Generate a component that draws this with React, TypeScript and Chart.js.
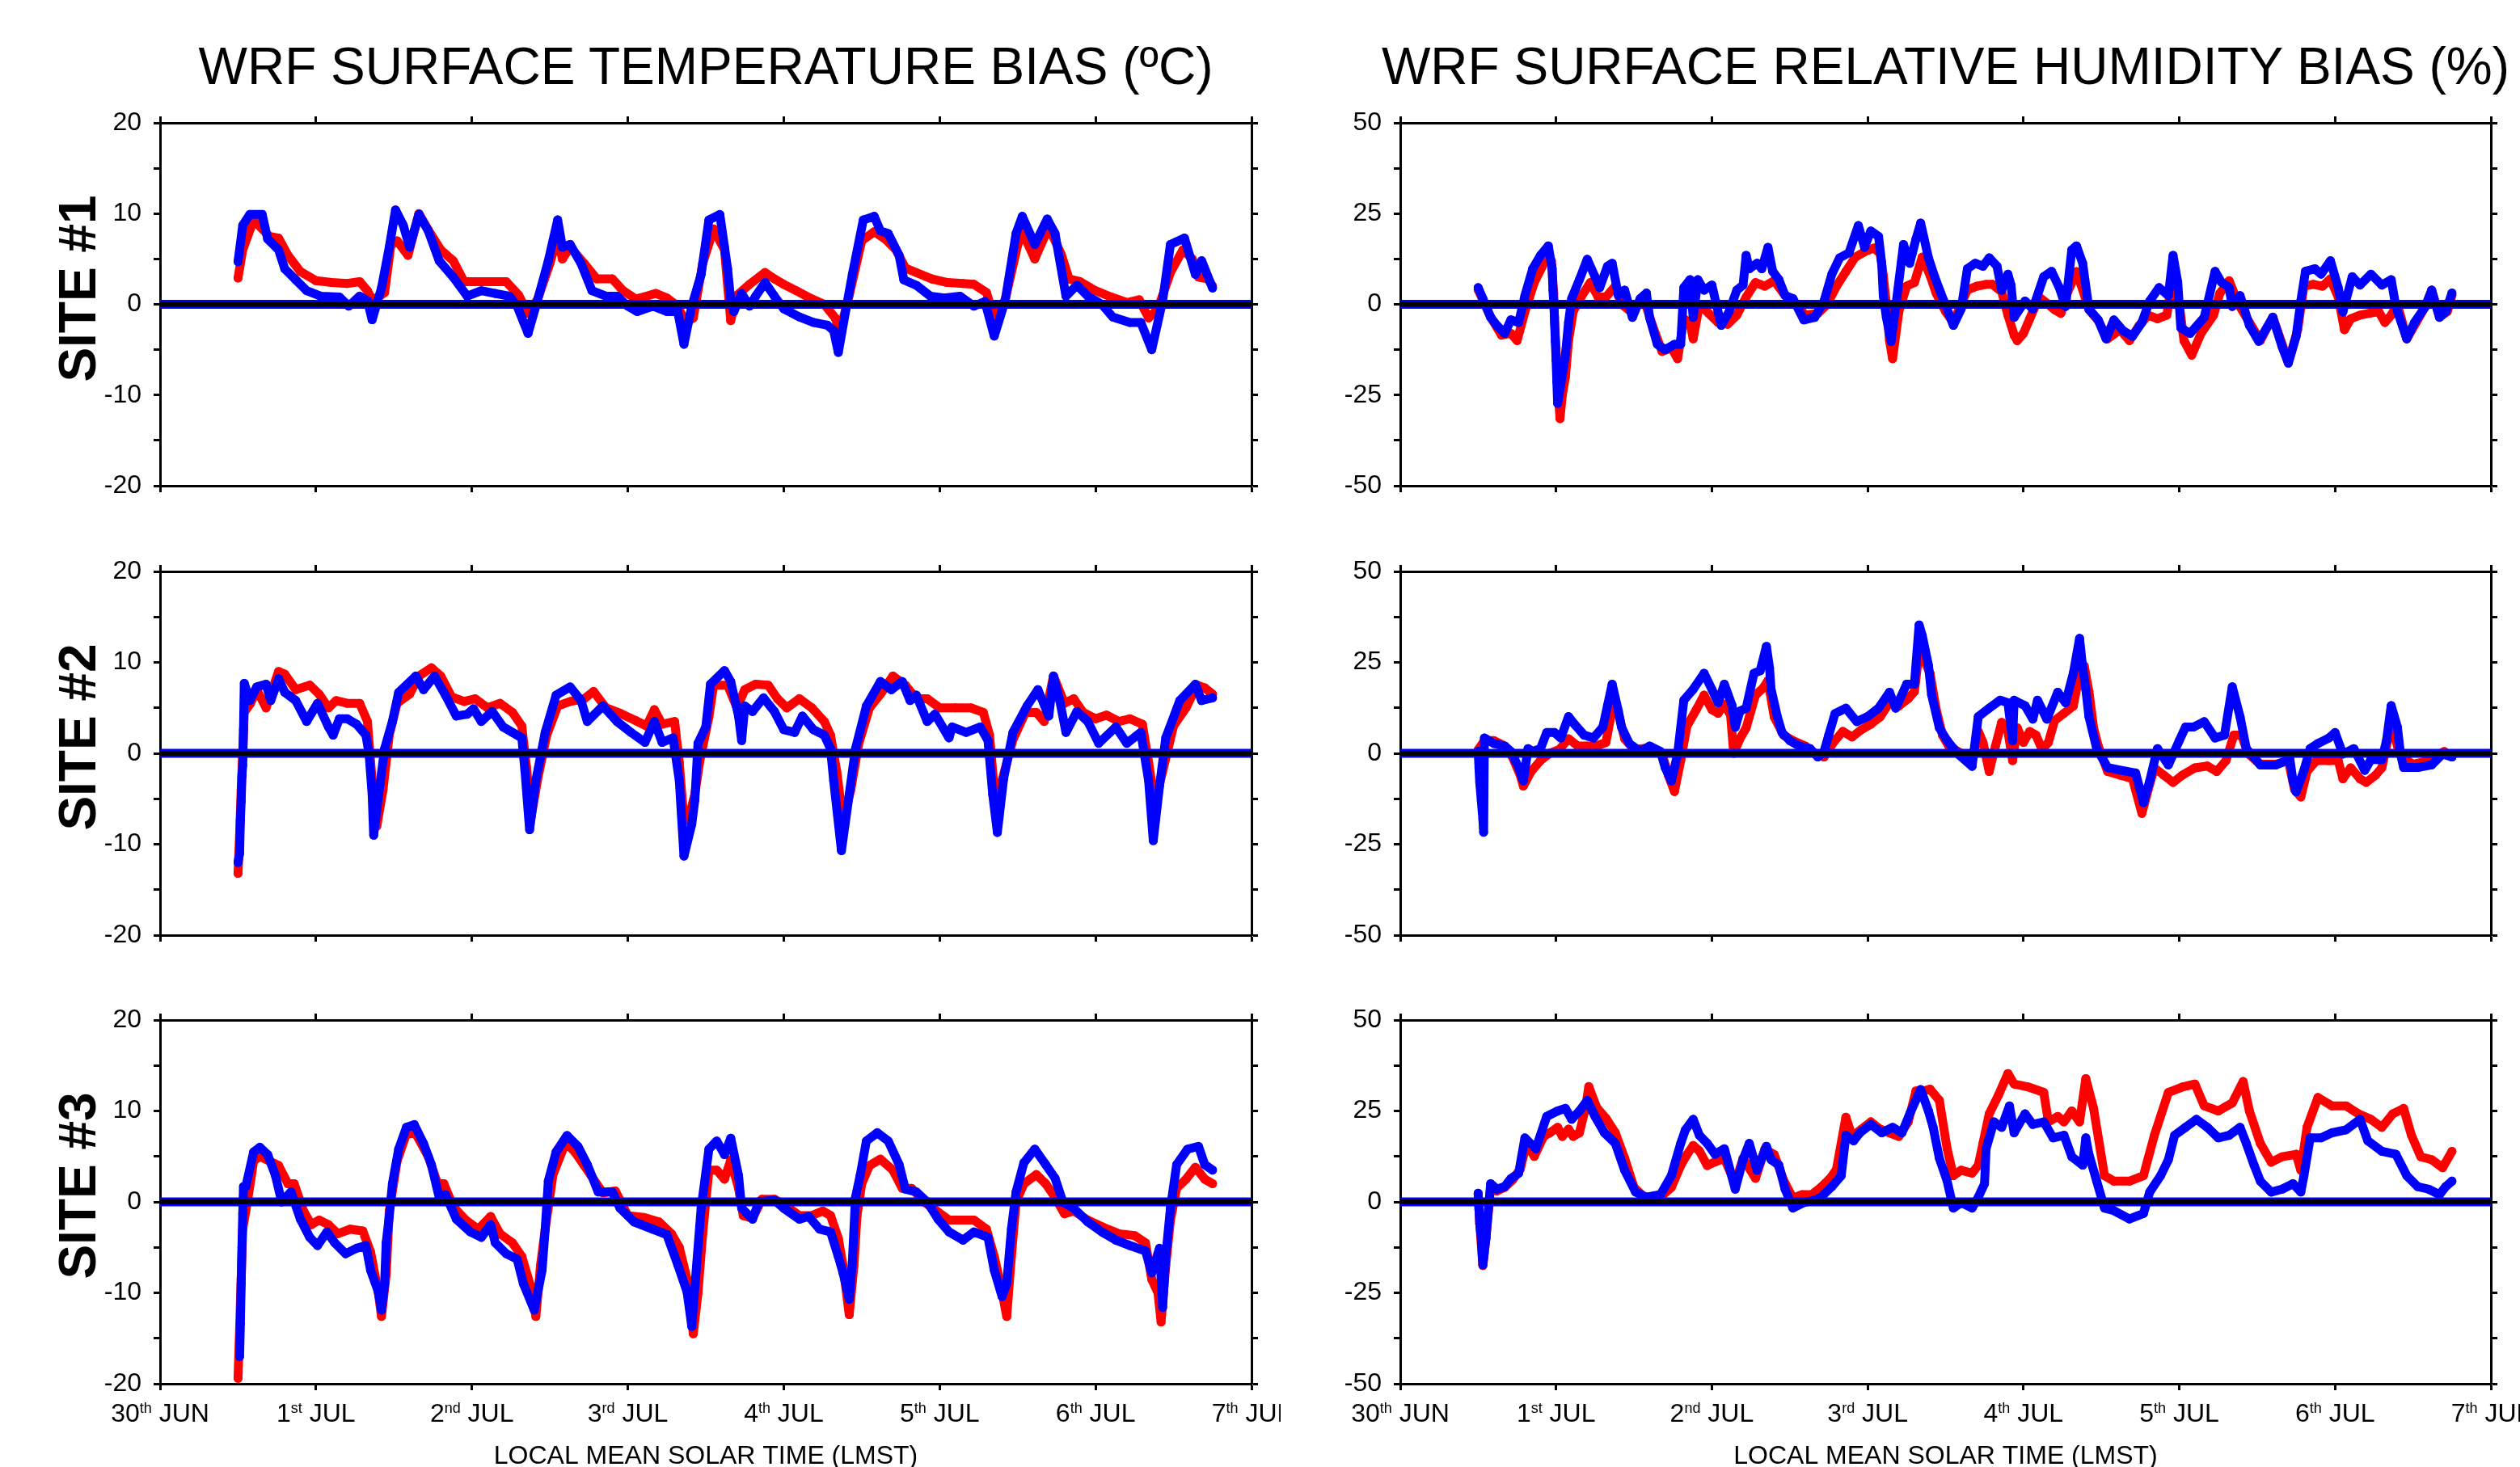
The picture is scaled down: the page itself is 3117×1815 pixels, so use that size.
import React, { useEffect, useRef } from 'react';
import { Chart, registerables } from 'chart.js';

Chart.register(...registerables);

const FONT = '"Liberation Sans", Arial, Helvetica, sans-serif';

// ---- Tick labels ----
const xTickNums = ['30', '1', '2', '3', '4', '5', '6', '7'];
const xTickSups = ['th', 'st', 'nd', 'rd', 'th', 'th', 'th', 'th'];
const xTickMonths = ['JUN', 'JUL', 'JUL', 'JUL', 'JUL', 'JUL', 'JUL', 'JUL'];
const titles = ['WRF SURFACE TEMPERATURE BIAS (\u00BAC)', 'WRF SURFACE RELATIVE HUMIDITY BIAS (%)'];
const siteLabels = ['SITE #1', 'SITE #2', 'SITE #3'];
const xAxisTitle = 'LOCAL MEAN SOLAR TIME (LMST)';

// ---- Data: [day since 30 Jun 00 LMST, bias] ----
const site1TempBlue = [[0.50,4.7],[0.53,8.7],[0.575,9.9],[0.655,9.9],[0.69,7.2],[0.76,6.0],[0.80,3.9],[0.87,2.7],[0.94,1.5],[1.03,0.9],[1.15,0.8],[1.21,-0.2],[1.28,0.9],[1.33,0.4],[1.36,-1.7],[1.42,1.8],[1.47,6.3],[1.51,10.4],[1.56,8.7],[1.60,6.3],[1.66,9.9],[1.72,8.1],[1.79,4.8],[1.88,3.0],[1.97,0.9],[2.06,1.5],[2.15,1.2],[2.24,0.9],[2.29,-0.2],[2.36,-3.2],[2.42,0.4],[2.49,4.8],[2.55,9.3],[2.58,6.3],[2.63,6.6],[2.70,4.5],[2.77,1.5],[2.86,0.9],[2.93,0.9],[3.00,-0.2],[3.06,-0.8],[3.16,-0.2],[3.25,-0.8],[3.32,-0.8],[3.36,-4.4],[3.41,-0.2],[3.47,3.3],[3.52,9.3],[3.59,9.9],[3.62,6.3],[3.64,3.9],[3.66,0.4],[3.68,-0.8],[3.73,1.2],[3.78,-0.2],[3.82,0.9],[3.88,2.4],[3.94,0.9],[4.00,-0.5],[4.10,-1.4],[4.19,-2.0],[4.28,-2.3],[4.32,-2.9],[4.35,-5.3],[4.39,-1.4],[4.44,3.3],[4.51,9.3],[4.58,9.7],[4.62,8.1],[4.67,7.8],[4.74,5.4],[4.77,2.7],[4.85,2.1],[4.94,0.9],[5.03,0.7],[5.13,0.9],[5.22,-0.2],[5.29,0.3],[5.35,-3.5],[5.42,0.4],[5.49,7.8],[5.53,9.7],[5.61,6.6],[5.69,9.4],[5.74,7.8],[5.81,0.9],[5.88,2.1],[5.95,0.9],[6.04,0],[6.11,-1.4],[6.22,-2.0],[6.29,-2.0],[6.36,-5.0],[6.43,0.4],[6.48,6.6],[6.57,7.3],[6.64,3.3],[6.68,4.8],[6.75,1.8]];
const site1TempRed = [[0.50,2.9],[0.53,6.0],[0.60,9.3],[0.70,7.5],[0.76,7.3],[0.82,5.4],[0.90,3.6],[1.00,2.6],[1.10,2.4],[1.20,2.3],[1.28,2.5],[1.33,1.5],[1.36,0.5],[1.40,0.8],[1.44,1.3],[1.48,6.5],[1.52,7.0],[1.59,5.4],[1.66,10.0],[1.72,8.2],[1.80,6.0],[1.88,4.8],[1.95,2.5],[2.05,2.5],[2.15,2.5],[2.22,2.5],[2.30,1.0],[2.36,-1.0],[2.42,0.5],[2.50,4.5],[2.55,7.5],[2.58,5.0],[2.63,6.3],[2.72,4.5],[2.80,2.8],[2.90,2.8],[2.97,1.5],[3.05,0.6],[3.10,0.8],[3.18,1.2],[3.25,0.7],[3.32,-0.2],[3.37,-2.0],[3.42,-1.5],[3.48,4.5],[3.55,8.3],[3.62,6.0],[3.66,-1.8],[3.70,1.0],[3.78,2.2],[3.88,3.5],[3.94,2.8],[4.00,2.2],[4.08,1.5],[4.18,0.6],[4.26,0],[4.33,-1.5],[4.36,-3.0],[4.42,1.0],[4.50,7.0],[4.58,8.0],[4.65,7.2],[4.72,6.0],[4.78,4.0],[4.85,3.5],[4.95,2.8],[5.05,2.4],[5.15,2.3],[5.22,2.2],[5.30,1.3],[5.35,-1.5],[5.42,0.5],[5.50,6.5],[5.53,8.0],[5.61,5.0],[5.70,8.5],[5.78,5.5],[5.83,2.8],[5.90,2.5],[6.00,1.5],[6.10,0.8],[6.20,0.2],[6.28,0.5],[6.34,-1.5],[6.40,-0.5],[6.48,3.5],[6.56,6.0],[6.62,5.0],[6.66,3.0],[6.72,2.8],[6.75,2.0]];

const site2TempBlue = [[0.50,-12.0],[0.51,-11.0],[0.515,-7.4],[0.52,-5.3],[0.525,-2.5],[0.53,-1.3],[0.535,2.6],[0.54,7.7],[0.575,5.8],[0.62,7.3],[0.68,7.6],[0.71,5.8],[0.76,8.2],[0.80,6.7],[0.87,5.8],[0.94,3.5],[1.01,5.5],[1.08,2.9],[1.11,2.0],[1.15,3.8],[1.20,3.8],[1.26,3.2],[1.32,2.0],[1.34,0],[1.36,-4.5],[1.37,-9.0],[1.40,-4.8],[1.44,0.5],[1.49,3.5],[1.53,6.7],[1.64,8.5],[1.69,7.0],[1.76,8.5],[1.83,6.4],[1.90,4.1],[1.97,4.3],[2.01,4.9],[2.06,3.5],[2.13,4.6],[2.20,2.9],[2.26,2.3],[2.32,1.7],[2.34,-1.9],[2.37,-8.4],[2.41,-3.0],[2.47,2.3],[2.54,6.4],[2.63,7.3],[2.70,5.8],[2.74,3.5],[2.84,5.2],[2.93,3.5],[3.02,2.3],[3.11,1.2],[3.17,3.5],[3.22,1.2],[3.29,1.7],[3.33,-3.0],[3.36,-11.3],[3.41,-7.8],[3.43,-5.1],[3.45,1.1],[3.50,2.9],[3.53,7.6],[3.62,9.1],[3.66,7.9],[3.71,4.1],[3.73,1.4],[3.75,5.2],[3.80,4.6],[3.87,6.1],[3.94,4.6],[4.00,2.6],[4.07,2.3],[4.12,4.1],[4.19,2.6],[4.26,2.0],[4.30,0.5],[4.32,-3.0],[4.37,-10.7],[4.42,-4.5],[4.46,0.5],[4.53,5.2],[4.62,7.9],[4.69,7.0],[4.76,7.9],[4.81,5.8],[4.85,6.4],[4.92,3.5],[4.97,4.3],[5.06,1.7],[5.08,2.9],[5.17,2.3],[5.26,2.9],[5.31,1.4],[5.34,-4.5],[5.37,-8.7],[5.41,-2.8],[5.47,2.3],[5.56,5.2],[5.63,7.0],[5.70,4.1],[5.73,8.5],[5.77,5.8],[5.81,2.3],[5.88,4.6],[5.95,3.5],[6.02,1.1],[6.13,2.9],[6.20,1.1],[6.29,2.3],[6.34,-3.0],[6.37,-9.6],[6.41,-3.6],[6.45,1.7],[6.54,5.8],[6.64,7.6],[6.68,5.8],[6.75,6.1]];
const site2TempRed = [[0.50,-13.2],[0.51,-9.0],[0.52,-4.0],[0.53,0],[0.54,4.5],[0.58,5.5],[0.62,7.0],[0.68,5.0],[0.76,9.0],[0.80,8.7],[0.87,7.0],[0.96,7.5],[1.02,6.5],[1.08,5.0],[1.13,5.8],[1.20,5.5],[1.28,5.5],[1.33,3.5],[1.36,-3.0],[1.39,-8.0],[1.43,-4.0],[1.47,2.0],[1.52,5.5],[1.60,6.5],[1.66,8.5],[1.74,9.4],[1.80,8.5],[1.87,6.2],[1.95,5.7],[2.02,6.0],[2.10,5.0],[2.18,5.5],[2.26,4.5],[2.32,3.0],[2.35,-1.5],[2.38,-7.0],[2.42,-3.0],[2.48,2.0],[2.55,5.2],[2.63,5.7],[2.72,6.0],[2.78,6.8],[2.86,5.0],[2.95,4.4],[3.05,3.6],[3.12,3.0],[3.17,4.8],[3.22,3.2],[3.30,3.5],[3.33,-1.0],[3.36,-7.5],[3.40,-6.5],[3.43,-4.5],[3.46,-1.0],[3.52,4.0],[3.55,7.5],[3.64,7.5],[3.70,5.0],[3.75,7.0],[3.82,7.6],[3.90,7.5],[3.96,6.0],[4.02,5.0],[4.10,6.0],[4.18,5.0],[4.26,3.5],[4.30,2.0],[4.34,-2.0],[4.38,-7.5],[4.43,-4.0],[4.48,1.0],[4.55,5.0],[4.62,6.5],[4.70,8.5],[4.78,7.5],[4.85,6.0],[4.92,6.0],[5.00,5.0],[5.10,5.0],[5.20,5.0],[5.28,4.5],[5.32,2.0],[5.36,-6.0],[5.40,-3.0],[5.47,1.5],[5.55,4.5],[5.62,4.5],[5.67,3.5],[5.73,8.5],[5.80,5.5],[5.86,6.0],[5.92,4.5],[6.00,3.8],[6.07,4.2],[6.15,3.5],[6.22,3.8],[6.30,3.2],[6.34,-1.0],[6.38,-5.5],[6.43,-2.0],[6.50,3.0],[6.58,5.0],[6.65,7.5],[6.70,7.2],[6.75,6.5]];

const site3TempBlue = [[0.51,-17.0],[0.515,-13.4],[0.52,-9.0],[0.525,-5.0],[0.53,-1.3],[0.535,1.7],[0.55,1.7],[0.60,5.5],[0.64,6.0],[0.69,5.2],[0.74,2.9],[0.78,0],[0.84,1.1],[0.90,-1.9],[0.96,-3.9],[1.01,-4.8],[1.07,-3.3],[1.12,-4.5],[1.19,-5.7],[1.26,-5.1],[1.32,-4.8],[1.35,-7.5],[1.40,-9.9],[1.42,-11.9],[1.44,-9.0],[1.45,-4.5],[1.47,-1.6],[1.49,2.0],[1.53,5.8],[1.58,8.2],[1.63,8.5],[1.69,6.4],[1.74,4.1],[1.79,0.5],[1.83,0.8],[1.90,-1.9],[1.99,-3.3],[2.06,-3.9],[2.12,-2.5],[2.15,-4.5],[2.22,-5.7],[2.29,-6.3],[2.33,-9.0],[2.40,-11.9],[2.45,-7.5],[2.47,-3.0],[2.49,2.3],[2.54,5.5],[2.61,7.3],[2.68,6.1],[2.74,4.1],[2.81,1.1],[2.90,1.1],[2.95,-0.7],[3.04,-2.2],[3.16,-3.0],[3.25,-3.6],[3.32,-6.9],[3.38,-9.9],[3.41,-13.7],[3.44,-7.2],[3.47,-0.7],[3.52,5.8],[3.57,6.7],[3.62,5.2],[3.66,7.0],[3.71,2.9],[3.73,-0.7],[3.80,-1.9],[3.84,0],[3.94,0.2],[4.00,-0.7],[4.10,-1.9],[4.16,-1.6],[4.23,-3.0],[4.30,-3.3],[4.35,-6.0],[4.38,-7.8],[4.42,-10.7],[4.44,-6.6],[4.46,0.5],[4.49,2.9],[4.53,6.7],[4.60,7.6],[4.67,6.7],[4.74,4.1],[4.78,1.4],[4.85,1.1],[4.92,0],[4.99,-1.9],[5.06,-3.3],[5.15,-4.2],[5.22,-3.3],[5.31,-3.9],[5.35,-7.5],[5.40,-10.4],[5.43,-9.0],[5.46,-3.0],[5.49,1.1],[5.54,4.3],[5.61,5.8],[5.68,4.1],[5.74,2.6],[5.79,0],[5.86,-0.7],[5.95,-2.2],[6.04,-3.3],[6.13,-4.2],[6.22,-4.8],[6.32,-5.4],[6.36,-7.8],[6.41,-5.1],[6.43,-11.6],[6.45,-6.0],[6.48,-0.7],[6.52,4.1],[6.59,5.8],[6.66,6.1],[6.70,4.1],[6.75,3.5]];
const site3TempRed = [[0.50,-19.4],[0.51,-14.0],[0.52,-8.5],[0.53,-3.0],[0.56,0],[0.60,4.5],[0.64,5.0],[0.70,4.5],[0.76,4.0],[0.82,2.0],[0.86,2.0],[0.92,-1.0],[0.97,-2.5],[1.02,-2.0],[1.08,-2.5],[1.14,-3.5],[1.22,-3.0],[1.30,-3.2],[1.35,-5.5],[1.40,-10.0],[1.42,-12.6],[1.45,-8.0],[1.47,-1.0],[1.52,4.5],[1.58,7.5],[1.64,7.5],[1.72,5.0],[1.78,2.0],[1.82,2.0],[1.88,-0.5],[1.96,-2.0],[2.04,-3.0],[2.12,-1.6],[2.18,-3.5],[2.26,-4.5],[2.32,-6.0],[2.38,-9.5],[2.41,-12.6],[2.44,-7.0],[2.47,-3.0],[2.52,3.0],[2.60,6.5],[2.66,5.5],[2.76,3.0],[2.84,1.0],[2.92,1.2],[3.00,-1.5],[3.10,-1.7],[3.20,-2.2],[3.28,-3.5],[3.33,-5.0],[3.38,-8.5],[3.42,-14.5],[3.45,-10.0],[3.48,-3.5],[3.52,3.5],[3.57,3.5],[3.62,2.5],[3.66,4.6],[3.71,1.5],[3.74,-1.5],[3.80,-1.8],[3.86,0.3],[3.94,0.3],[4.02,-0.5],[4.10,-1.5],[4.18,-1.5],[4.25,-1.0],[4.30,-1.5],[4.35,-4.0],[4.38,-7.0],[4.42,-12.4],[4.45,-7.0],[4.47,-1.5],[4.50,2.0],[4.55,4.0],[4.62,4.7],[4.70,3.5],[4.76,1.5],[4.82,1.5],[4.90,0],[4.98,-1.0],[5.06,-2.0],[5.14,-2.0],[5.22,-2.0],[5.30,-3.0],[5.35,-6.0],[5.39,-9.0],[5.43,-12.6],[5.46,-6.0],[5.49,0],[5.54,2.0],[5.62,3.0],[5.68,2.0],[5.74,0.5],[5.80,-1.3],[5.86,-1.0],[5.95,-2.0],[6.05,-2.8],[6.15,-3.5],[6.25,-3.7],[6.32,-4.5],[6.36,-8.5],[6.40,-10.0],[6.42,-13.2],[6.45,-7.0],[6.48,-2.0],[6.52,1.5],[6.58,2.5],[6.64,3.8],[6.70,2.5],[6.75,2.0]];

const site1RhBlue = [[0.50,4.6],[0.53,1.6],[0.58,-3.6],[0.62,-5.8],[0.67,-8.0],[0.71,-4.3],[0.76,-5.0],[0.80,2.4],[0.85,9.8],[0.90,13.5],[0.95,16.1],[0.975,9.8],[0.98,3.9],[0.99,-3.6],[0.995,-10.2],[1.00,-15.4],[1.005,-21.4],[1.01,-27.3],[1.03,-22.1],[1.06,-13.9],[1.08,-5.0],[1.10,1.6],[1.15,6.8],[1.20,12.4],[1.25,7.6],[1.28,4.6],[1.33,10.5],[1.36,11.3],[1.40,2.4],[1.44,3.9],[1.49,-3.6],[1.54,1.6],[1.58,3.1],[1.60,-3.6],[1.65,-11.0],[1.70,-12.5],[1.76,-11.0],[1.80,-11.0],[1.82,4.6],[1.86,6.8],[1.88,-3.6],[1.91,6.8],[1.95,3.9],[2.00,5.3],[2.06,-5.8],[2.11,-2.1],[2.16,3.9],[2.20,5.3],[2.22,13.5],[2.24,9.8],[2.29,11.3],[2.32,9.8],[2.36,15.7],[2.39,9.1],[2.43,6.8],[2.47,2.4],[2.52,1.6],[2.59,-4.3],[2.66,-3.6],[2.72,0.9],[2.77,8.3],[2.82,12.8],[2.88,14.2],[2.94,21.7],[2.98,15.7],[3.02,20.2],[3.07,18.7],[3.09,11.3],[3.10,2.4],[3.12,-3.6],[3.15,-10.2],[3.18,-0.6],[3.23,16.5],[3.27,11.3],[3.31,18.0],[3.34,22.4],[3.39,12.8],[3.43,7.6],[3.47,3.0],[3.51,-1.3],[3.55,-5.8],[3.60,-1.3],[3.64,9.8],[3.69,11.3],[3.74,10.5],[3.78,12.8],[3.83,10.5],[3.86,3.9],[3.90,8.3],[3.92,5.3],[3.94,-3.6],[4.01,0.9],[4.06,-1.3],[4.13,7.6],[4.18,9.1],[4.23,4.6],[4.27,-0.6],[4.31,15.0],[4.34,16.1],[4.38,11.3],[4.42,-1.3],[4.48,-4.3],[4.53,-9.5],[4.58,-4.3],[4.64,-7.3],[4.70,-8.8],[4.76,-5.0],[4.81,0.9],[4.87,4.6],[4.93,2.4],[4.96,13.5],[4.99,6.1],[5.01,-6.5],[5.07,-8.0],[5.16,-3.6],[5.23,9.1],[5.27,6.1],[5.32,4.6],[5.34,-0.6],[5.39,2.4],[5.45,-5.8],[5.51,-10.2],[5.60,-3.6],[5.66,-11.7],[5.70,-16.2],[5.75,-8.8],[5.78,0.9],[5.81,9.1],[5.87,9.8],[5.91,8.3],[5.97,12.0],[6.02,4.6],[6.05,-2.1],[6.11,7.6],[6.16,5.3],[6.23,8.3],[6.30,5.3],[6.36,6.8],[6.39,-0.6],[6.46,-9.5],[6.51,-5.0],[6.58,-0.6],[6.62,3.9],[6.67,-3.6],[6.71,-2.1],[6.75,3.1]];
const site1RhRed = [[0.50,4.0],[0.58,-3.5],[0.65,-8.5],[0.71,-8.0],[0.75,-10.0],[0.80,-2.0],[0.86,6.0],[0.93,12.0],[0.97,12.0],[0.985,3.0],[0.99,-5.0],[1.00,-12.0],[1.01,-22.0],[1.025,-31.5],[1.04,-25.0],[1.06,-20.0],[1.08,-10.0],[1.11,-2.0],[1.16,2.0],[1.22,6.0],[1.27,2.0],[1.32,2.0],[1.38,5.0],[1.42,0],[1.48,-2.0],[1.56,2.0],[1.62,-6.0],[1.68,-13.0],[1.74,-12.0],[1.78,-15.0],[1.82,-4.0],[1.86,-5.0],[1.88,-9.5],[1.92,0],[1.98,-2.5],[2.04,-5.0],[2.10,-5.5],[2.16,-3.0],[2.22,2.0],[2.28,6.0],[2.34,5.0],[2.40,6.5],[2.46,3.0],[2.52,1.0],[2.60,-3.0],[2.68,-2.5],[2.74,0],[2.80,5.0],[2.86,9.0],[2.92,13.0],[2.98,14.5],[3.04,15.5],[3.08,14.0],[3.10,8.0],[3.12,0],[3.14,-10.0],[3.16,-15.0],[3.20,-2.0],[3.25,5.0],[3.30,6.0],[3.35,13.0],[3.40,8.0],[3.44,3.0],[3.50,-2.0],[3.55,-5.0],[3.64,4.0],[3.70,5.0],[3.76,5.5],[3.80,5.5],[3.86,3.5],[3.90,-3.0],[3.94,-8.5],[3.96,-10.0],[4.00,-8.0],[4.04,-4.0],[4.10,2.0],[4.16,0],[4.20,-1.5],[4.24,-2.5],[4.28,3.0],[4.31,6.0],[4.34,9.0],[4.38,4.0],[4.42,-1.5],[4.48,-4.5],[4.54,-9.5],[4.62,-7.0],[4.68,-10.0],[4.74,-6.0],[4.80,-3.0],[4.86,-4.0],[4.92,-3.0],[4.96,8.0],[5.00,0],[5.03,-10.0],[5.08,-14.0],[5.14,-8.0],[5.22,-3.0],[5.26,3.0],[5.32,6.5],[5.38,0],[5.45,-5.0],[5.52,-10.0],[5.60,-3.5],[5.66,-11.0],[5.70,-16.0],[5.76,-7.0],[5.80,5.0],[5.86,5.5],[5.92,5.0],[5.97,7.0],[6.02,2.0],[6.06,-7.0],[6.10,-4.0],[6.16,-3.0],[6.22,-2.5],[6.28,-2.0],[6.32,-5.0],[6.36,-3.0],[6.40,0],[6.46,-9.5],[6.52,-5.0],[6.58,-0.5],[6.62,3.9],[6.67,-3.5],[6.72,-2.0],[6.75,2.5]];

const site2RhBlue = [[0.50,0.5],[0.505,-3.9],[0.51,-8.0],[0.52,-13.0],[0.53,-18.0],[0.535,-21.7],[0.54,4.2],[0.60,2.7],[0.67,2.0],[0.71,0.5],[0.76,-3.9],[0.79,-7.6],[0.82,1.3],[0.85,0.5],[0.90,1.3],[0.94,5.7],[0.99,5.7],[1.03,4.2],[1.08,10.1],[1.12,7.9],[1.18,5.0],[1.24,4.2],[1.30,7.2],[1.33,13.1],[1.36,19.0],[1.40,11.6],[1.42,7.2],[1.47,2.7],[1.54,0.5],[1.60,2.0],[1.67,0.5],[1.70,-3.9],[1.74,-7.6],[1.78,-0.2],[1.82,14.6],[1.88,17.6],[1.95,22.0],[2.00,17.6],[2.04,13.9],[2.08,19.0],[2.13,13.1],[2.15,7.2],[2.18,11.6],[2.22,12.4],[2.27,22.0],[2.31,22.7],[2.35,29.4],[2.37,23.5],[2.38,17.6],[2.42,10.1],[2.45,5.7],[2.50,3.5],[2.56,2.0],[2.63,1.3],[2.68,-1.0],[2.72,0.5],[2.75,5.0],[2.79,10.9],[2.86,12.4],[2.93,8.7],[3.00,10.1],[3.07,12.4],[3.14,16.8],[3.18,12.4],[3.25,19.0],[3.30,19.0],[3.33,35.3],[3.35,32.4],[3.39,24.2],[3.41,16.1],[3.46,7.0],[3.51,3.5],[3.58,-0.2],[3.67,-3.6],[3.71,10.1],[3.78,12.4],[3.85,14.6],[3.90,13.9],[3.93,3.5],[3.94,14.6],[4.01,13.1],[4.06,9.4],[4.09,14.6],[4.15,9.4],[4.22,16.8],[4.27,13.9],[4.32,22.0],[4.36,31.6],[4.38,23.5],[4.40,17.6],[4.42,10.1],[4.47,1.3],[4.54,-3.9],[4.63,-4.7],[4.72,-5.4],[4.77,-13.6],[4.81,-7.6],[4.86,1.3],[4.93,-3.2],[5.00,3.5],[5.04,7.2],[5.09,7.2],[5.16,8.7],[5.23,4.2],[5.29,5.0],[5.34,18.3],[5.39,10.1],[5.43,1.3],[5.52,-3.2],[5.62,-3.2],[5.71,-1.7],[5.73,-7.6],[5.75,-10.6],[5.80,-4.7],[5.84,1.3],[5.89,2.7],[5.96,4.2],[6.00,5.7],[6.05,-0.2],[6.12,1.3],[6.19,-4.7],[6.23,-1.7],[6.30,-1.7],[6.33,3.5],[6.36,13.1],[6.40,7.2],[6.42,-0.2],[6.44,-3.9],[6.53,-3.9],[6.62,-3.2],[6.69,-0.2],[6.75,-1.0]];
const site2RhRed = [[0.50,1.0],[0.54,3.5],[0.60,3.5],[0.67,2.0],[0.72,-1.0],[0.77,-6.0],[0.79,-9.0],[0.84,-5.0],[0.90,-2.0],[0.96,0],[1.02,1.0],[1.08,4.0],[1.14,2.0],[1.20,2.0],[1.26,2.0],[1.32,3.0],[1.36,12.0],[1.40,11.0],[1.44,4.0],[1.50,1.0],[1.60,1.5],[1.68,0],[1.72,-6.0],[1.76,-10.5],[1.80,-2.0],[1.84,7.5],[1.90,12.0],[1.95,16.0],[2.00,12.0],[2.04,11.0],[2.08,13.5],[2.12,10.5],[2.14,0],[2.18,4.0],[2.22,7.0],[2.28,16.0],[2.33,18.0],[2.36,20.0],[2.40,10.0],[2.46,5.0],[2.52,3.5],[2.60,2.0],[2.66,0],[2.72,-1.0],[2.78,3.0],[2.84,6.0],[2.90,4.5],[2.96,6.5],[3.02,8.0],[3.08,10.0],[3.14,14.0],[3.20,13.0],[3.26,15.0],[3.30,17.0],[3.33,28.0],[3.36,26.0],[3.40,22.0],[3.44,12.0],[3.48,5.0],[3.52,2.0],[3.60,0],[3.67,-2.0],[3.71,6.0],[3.74,3.0],[3.78,-5.0],[3.82,2.0],[3.86,8.5],[3.90,6.0],[3.93,-2.0],[3.96,7.0],[4.00,3.0],[4.04,6.0],[4.08,5.0],[4.12,1.0],[4.16,3.0],[4.20,9.0],[4.26,11.0],[4.32,13.0],[4.36,22.0],[4.39,24.0],[4.42,17.0],[4.45,7.0],[4.48,2.0],[4.54,-5.0],[4.62,-6.0],[4.70,-7.0],[4.76,-16.5],[4.80,-10.0],[4.84,-4.0],[4.90,-6.0],[4.96,-8.0],[5.02,-6.0],[5.10,-4.0],[5.18,-3.5],[5.24,-5.0],[5.30,-2.0],[5.35,5.0],[5.40,5.0],[5.44,0],[5.52,-3.0],[5.62,-3.0],[5.70,-2.0],[5.74,-10.0],[5.78,-12.0],[5.82,-5.0],[5.88,-2.0],[5.96,-2.0],[6.02,-2.0],[6.05,-7.0],[6.10,-4.0],[6.16,-7.0],[6.20,-8.0],[6.26,-6.0],[6.30,-4.0],[6.34,4.0],[6.37,7.0],[6.40,2.0],[6.43,-1.0],[6.50,-3.0],[6.60,-2.0],[6.70,0.5],[6.75,-1.0]];

const site3RhBlue = [[0.50,2.4],[0.505,-2.0],[0.51,-6.0],[0.52,-10.0],[0.53,-17.3],[0.55,-9.9],[0.58,5.0],[0.62,3.5],[0.67,4.2],[0.71,6.4],[0.76,7.9],[0.80,17.6],[0.87,14.6],[0.94,23.5],[1.01,25.0],[1.06,25.7],[1.10,22.7],[1.15,25.0],[1.20,27.9],[1.25,23.5],[1.31,19.0],[1.38,16.1],[1.44,8.7],[1.51,2.7],[1.58,1.3],[1.67,2.0],[1.74,7.2],[1.80,16.1],[1.83,19.8],[1.88,22.7],[1.92,18.3],[1.97,16.1],[2.02,13.1],[2.08,14.6],[2.15,3.5],[2.20,11.6],[2.24,16.1],[2.29,8.7],[2.35,15.3],[2.38,11.6],[2.43,10.1],[2.47,3.5],[2.52,-1.7],[2.59,-0.2],[2.66,0.5],[2.70,1.3],[2.77,4.2],[2.83,7.2],[2.86,18.3],[2.91,16.8],[2.95,19.0],[3.02,21.3],[3.09,19.0],[3.16,20.5],[3.22,19.0],[3.27,24.2],[3.34,30.9],[3.39,25.0],[3.42,20.5],[3.46,12.0],[3.51,5.7],[3.55,-1.7],[3.60,-0.2],[3.67,-1.7],[3.71,1.3],[3.75,5.0],[3.76,14.6],[3.81,22.0],[3.86,20.5],[3.91,26.4],[3.94,19.0],[4.01,24.2],[4.06,21.3],[4.13,22.0],[4.19,17.6],[4.26,18.3],[4.31,12.4],[4.38,10.1],[4.40,17.6],[4.42,13.1],[4.47,5.7],[4.52,-1.7],[4.58,-2.4],[4.68,-4.7],[4.77,-3.2],[4.81,2.7],[4.88,7.2],[4.93,11.6],[4.97,18.3],[5.04,20.5],[5.11,22.7],[5.18,20.5],[5.25,17.6],[5.32,18.3],[5.39,20.5],[5.43,16.1],[5.48,10.1],[5.52,5.7],[5.59,2.7],[5.66,3.5],[5.73,5.0],[5.78,2.7],[5.80,7.2],[5.84,17.6],[5.91,17.6],[5.98,19.0],[6.07,19.8],[6.16,22.7],[6.21,16.8],[6.30,13.9],[6.39,13.1],[6.46,7.2],[6.53,4.2],[6.60,3.5],[6.67,2.0],[6.71,4.2],[6.75,5.7]];
const site3RhRed = [[0.50,2.0],[0.51,-6.0],[0.53,-17.5],[0.55,-10.0],[0.58,4.0],[0.62,3.0],[0.67,4.0],[0.72,6.0],[0.77,9.0],[0.81,16.0],[0.86,12.5],[0.92,18.0],[0.96,19.0],[1.01,20.5],[1.04,18.0],[1.08,20.0],[1.11,18.0],[1.15,19.0],[1.19,26.0],[1.21,31.7],[1.26,26.0],[1.32,23.0],[1.38,19.0],[1.44,12.0],[1.50,4.0],[1.56,1.5],[1.66,1.0],[1.74,4.0],[1.80,10.0],[1.84,13.0],[1.88,15.5],[1.92,14.0],[1.97,10.0],[2.02,11.0],[2.08,12.0],[2.15,5.0],[2.20,12.0],[2.28,6.5],[2.34,14.5],[2.40,13.0],[2.46,6.0],[2.52,1.0],[2.58,2.0],[2.64,2.0],[2.70,4.0],[2.76,6.5],[2.80,9.0],[2.86,23.3],[2.90,18.0],[2.96,20.0],[3.02,22.0],[3.08,20.0],[3.14,19.0],[3.20,18.0],[3.26,22.0],[3.31,30.5],[3.36,30.5],[3.40,31.0],[3.46,27.9],[3.51,14.6],[3.55,7.2],[3.60,8.7],[3.67,7.9],[3.71,10.1],[3.74,16.1],[3.78,24.2],[3.84,29.4],[3.90,35.3],[3.94,32.4],[4.03,31.6],[4.13,30.1],[4.16,22.0],[4.22,23.5],[4.26,22.0],[4.31,25.0],[4.36,22.0],[4.40,33.9],[4.45,25.7],[4.52,7.2],[4.58,5.7],[4.68,5.7],[4.77,7.2],[4.84,18.3],[4.93,30.1],[5.02,31.6],[5.10,32.4],[5.16,26.4],[5.25,25.0],[5.34,27.2],[5.41,33.1],[5.45,25.0],[5.52,16.1],[5.59,10.9],[5.66,12.4],[5.75,13.1],[5.78,8.7],[5.82,20.5],[5.89,28.7],[5.98,26.4],[6.07,26.4],[6.15,24.2],[6.23,22.7],[6.30,20.5],[6.37,24.2],[6.44,25.7],[6.49,18.3],[6.55,12.4],[6.62,11.6],[6.69,9.4],[6.75,13.9]];

const tempAxis = { min: -20, max: 20, step: 5, labelEvery: 10 };
const rhAxis = { min: -50, max: 50, step: 12.5, labelEvery: 25 };
const xAxisRange = { min: 0, max: 7, step: 1 };

// ---- Layout (pixels) ----
const colPlot = [
  { left: 198, right: 1548 },
  { left: 1732, right: 3081 },
];
const rowPlot = [
  { top: 152, bottom: 601 },
  { top: 707, bottom: 1157 },
  { top: 1262, bottom: 1712 },
];
const M_LEFT = 160, M_RIGHT = 36, M_TOP = 40, M_BOTTOM = 40, M_BOTTOM_LAST = 110;

const toXY = (arr: number[][]) => arr.map(([x, y]) => ({ x, y }));

const xLabelPlugin = {
  id: 'xLabels',
  afterDraw(chart: any) {
    const opts = chart.options.plugins.xLabels;
    if (!opts || !opts.show) return;
    const ctx = chart.ctx;
    const xs = chart.scales.x;
    const area = chart.chartArea;
    ctx.save();
    ctx.fillStyle = '#000';
    ctx.textBaseline = 'alphabetic';
    ctx.textAlign = 'left';
    const base = area.bottom + 47;
    for (let i = 0; i < xTickNums.length; i++) {
      const px = xs.getPixelForValue(i);
      const main = xTickNums[i];
      const sup = xTickSups[i];
      const rest = ' ' + xTickMonths[i];
      ctx.font = `32px ${FONT}`;
      const w1 = ctx.measureText(main).width;
      const w3 = ctx.measureText(rest).width;
      ctx.font = `18px ${FONT}`;
      const w2 = ctx.measureText(sup).width;
      const x0 = px - (w1 + w2 + w3) / 2;
      ctx.font = `32px ${FONT}`;
      ctx.fillText(main, x0, base);
      ctx.font = `18px ${FONT}`;
      ctx.fillText(sup, x0 + w1, base - 11);
      ctx.font = `32px ${FONT}`;
      ctx.fillText(rest, x0 + w1 + w2, base);
    }
    ctx.font = `32px ${FONT}`;
    ctx.textAlign = 'center';
    ctx.fillText(xAxisTitle, (area.left + area.right) / 2, area.bottom + 99);
    ctx.restore();
  },
};

type PanelProps = {
  col: number;
  row: number;
  red: number[][];
  blue: number[][];
};

function Panel({ col, row, red, blue }: PanelProps) {
  const ref = useRef<HTMLCanvasElement>(null);
  const isLast = row === rowPlot.length - 1;
  const mb = isLast ? M_BOTTOM_LAST : M_BOTTOM;
  const cp = colPlot[col];
  const rp = rowPlot[row];
  const left = cp.left - M_LEFT;
  const top = rp.top - M_TOP;
  const width = cp.right - cp.left + M_LEFT + M_RIGHT;
  const height = rp.bottom - rp.top + M_TOP + mb;
  const yAx = col === 0 ? tempAxis : rhAxis;

  useEffect(() => {
    const canvas = ref.current!;
    const gridCommon = {
      drawOnChartArea: false,
      drawTicks: true,
      tickLength: 8,
      tickWidth: 3,
      tickColor: '#000',
    };
    const borderCommon = { display: true, width: 3, color: '#000' };
    const seriesStyle = (color: string, order: number) => ({
      showLine: true,
      borderColor: color,
      backgroundColor: color,
      borderWidth: 11,
      pointRadius: 5.5,
      pointBorderWidth: 0,
      pointBackgroundColor: color,
      borderJoinStyle: 'round',
      borderCapStyle: 'round',
      order,
    });
    const chart = new Chart(canvas, {
      type: 'scatter',
      data: {
        datasets: [
          {
            label: 'zero',
            data: [{ x: xAxisRange.min, y: 0 }, { x: xAxisRange.max, y: 0 }],
            showLine: true,
            borderColor: '#000000',
            borderWidth: 6,
            pointRadius: 0,
            order: 0,
          },
          {
            label: 'zeroBand',
            data: [{ x: xAxisRange.min, y: 0 }, { x: xAxisRange.max, y: 0 }],
            showLine: true,
            borderColor: '#0000FF',
            borderWidth: 11,
            pointRadius: 0,
            order: 1,
          },
          { label: 'blue', data: toXY(blue), ...seriesStyle('#0000FF', 2) },
          { label: 'red', data: toXY(red), ...seriesStyle('#FF0000', 3) },
        ] as any,
      },
      options: {
        animation: false,
        responsive: false,
        maintainAspectRatio: false,
        devicePixelRatio: 1,
        layout: { padding: 0 },
        events: [],
        plugins: {
          legend: { display: false },
          tooltip: { enabled: false },
          title: { display: false },
          xLabels: { show: isLast },
        } as any,
        scales: {
          x: {
            type: 'linear',
            position: 'bottom',
            min: xAxisRange.min,
            max: xAxisRange.max,
            ticks: { stepSize: xAxisRange.step, display: false },
            grid: gridCommon,
            border: borderCommon,
            afterFit: (s: any) => { s.height = mb; },
          },
          x2: {
            type: 'linear',
            position: 'top',
            min: xAxisRange.min,
            max: xAxisRange.max,
            ticks: { stepSize: xAxisRange.step, display: false },
            grid: gridCommon,
            border: borderCommon,
            afterFit: (s: any) => { s.height = M_TOP; },
          },
          y: {
            type: 'linear',
            position: 'left',
            min: yAx.min,
            max: yAx.max,
            ticks: {
              stepSize: yAx.step,
              autoSkip: false,
              padding: 15,
              color: '#000',
              font: { family: FONT, size: 32 },
              callback: (v: any) => (Math.abs(v % yAx.labelEvery) < 1e-9 ? String(v) : ''),
            },
            grid: gridCommon,
            border: borderCommon,
            afterFit: (s: any) => { s.width = M_LEFT; },
          },
          y2: {
            type: 'linear',
            position: 'right',
            min: yAx.min,
            max: yAx.max,
            ticks: { stepSize: yAx.step, display: false, autoSkip: false },
            grid: gridCommon,
            border: borderCommon,
            afterFit: (s: any) => { s.width = M_RIGHT; },
          },
        } as any,
      },
      plugins: [xLabelPlugin],
    });
    return () => chart.destroy();
  }, []);

  return (
    <canvas
      ref={ref}
      width={width}
      height={height}
      style={{ position: 'absolute', left, top, width, height }}
    />
  );
}

const panels = [
  { col: 0, row: 0, red: site1TempRed, blue: site1TempBlue },
  { col: 0, row: 1, red: site2TempRed, blue: site2TempBlue },
  { col: 0, row: 2, red: site3TempRed, blue: site3TempBlue },
  { col: 1, row: 0, red: site1RhRed, blue: site1RhBlue },
  { col: 1, row: 1, red: site2RhRed, blue: site2RhBlue },
  { col: 1, row: 2, red: site3RhRed, blue: site3RhBlue },
];

export default function App() {
  return (
    <div
      style={{
        position: 'fixed',
        left: 0,
        top: 0,
        width: 3117,
        height: 1815,
        background: '#fff',
        overflow: 'hidden',
        fontFamily: FONT,
      }}
    >
      {titles.map((t, i) => {
        const cx = (colPlot[i].left + colPlot[i].right) / 2;
        return (
          <div
            key={t}
            style={{
              position: 'absolute',
              left: cx - 1000,
              width: 2000,
              top: 50,
              fontSize: 64,
              lineHeight: '64px',
              textAlign: 'center',
              color: '#000',
              whiteSpace: 'nowrap',
            }}
          >
            {t}
          </div>
        );
      })}
      {siteLabels.map((s, i) => {
        const cy = (rowPlot[i].top + rowPlot[i].bottom) / 2 - 20;
        return (
          <div
            key={s}
            style={{
              position: 'absolute',
              left: 96,
              top: cy,
              transform: 'translate(-50%, -50%) rotate(-90deg)',
              fontSize: 64,
              fontWeight: 'bold',
              lineHeight: '64px',
              whiteSpace: 'nowrap',
              color: '#000',
            }}
          >
            {s}
          </div>
        );
      })}
      {panels.map((p) => (
        <Panel key={`${p.col}-${p.row}`} col={p.col} row={p.row} red={p.red} blue={p.blue} />
      ))}
    </div>
  );
}
